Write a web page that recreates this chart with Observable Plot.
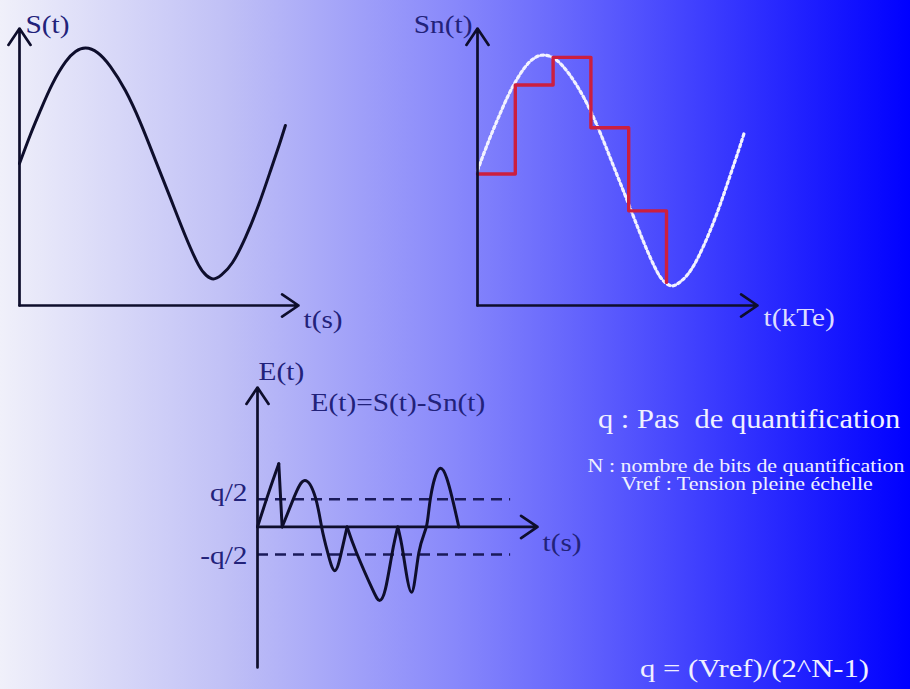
<!DOCTYPE html>
<html>
<head>
<meta charset="utf-8">
<script src="https://cdn.jsdelivr.net/npm/d3@7"></script>
<script src="https://cdn.jsdelivr.net/npm/@observablehq/plot@0.6"></script>
<style>
  html, body { margin: 0; padding: 0; }
  #slide {
    position: relative; width: 910px; height: 689px; overflow: hidden;
    background: linear-gradient(to right, #f0f0fa 0%, #c0c0f6 25%, #8888fb 50%, #4444fe 75%, #0000ff 100%);
  }
  #slide > svg { position: absolute; margin: 0; }
</style>
</head>
<body>
<div id="slide"></div>
<script>
// ---- data ----------------------------------------------------------------
// Analog signal S(t) (t: time units, S: volts)
const tS = [0, 0.39, 0.75, 1.18, 1.65, 2.01, 2.37, 2.80, 3.26, 3.80, 4.34, 4.87, 5.41, 5.95, 6.42, 6.70, 6.95, 7.24, 7.63, 8.10, 8.57, 9.00, 9.32, 9.53];
const S  = [1.23, 1.48, 1.69, 1.92, 2.11, 2.20, 2.23, 2.19, 2.07, 1.86, 1.58, 1.26, 0.93, 0.60, 0.35, 0.26, 0.23, 0.265, 0.37, 0.59, 0.87, 1.17, 1.40, 1.56];

// Sampling instants kTe and the quantised values Sn held until the next sample
const tK = [0, 1.35, 2.7, 4.05, 5.4, 6.75];
const Sn = [1.20, 1.97, 2.21, 1.60, 0.88, 0.26];

// Quantisation error E(t) = S(t) - Sn(t), in units of q, one piece per arc
const tE    = [0, 0.40, 0.76,  0.76, 0.88,
               0.88, 1.30, 1.69, 2.07, 2.29, 2.51, 2.76, 2.99, 3.20,
               3.20, 3.54, 4.10, 4.36, 4.57, 4.81, 5.01,
               5.01, 5.20, 5.50, 5.76, 6.03, 6.18, 6.54, 6.95, 7.19];
const E     = [0, 0.62, 1.14,  1.14, 0,
               0, 0.53, 0.84, 0.53, 0, -0.47, -0.79, -0.47, 0,
               0, -0.47, -1.12, -1.33, -1.12, -0.47, 0,
               0, -0.47, -1.18, -0.47, 0, 0.53, 1.06, 0.53, 0];
const pieceE = [0, 0, 0,  1, 1,
               2, 2, 2, 2, 2, 2, 2, 2, 2,
               3, 3, 3, 3, 3, 3, 3,
               4, 4, 4, 4, 4, 4, 4, 4, 4];

// Half quantisation step levels
const qLevels = [0.5, -0.5];
const qLabels = ["q/2", "-q/2"];

// Axis titles
const titles1 = ["S(t)", "t(s)"];
const titles2 = ["Sn(t)", "t(kTe)"];
const titles3 = ["E(t)", "t(s)", "E(t)=S(t)-Sn(t)"];

// Notes
const notes = [
  "q : Pas  de quantification",
  "N : nombre de bits de quantification",
  "Vref : Tension pleine échelle",
  "q = (Vref)/(2^N-1)"
];

// ---- drawing -------------------------------------------------------------
const slide = document.getElementById("slide");
const ink = "#0e0e2c";
const navy = "#22227a";
const serif = "Liberation Serif, Times New Roman, serif";
const transparent = {background: "transparent", overflow: "visible"};

const sigS = tS.map((t, i) => ({t, v: S[i]}));
const sigSn = tK.map((t, i) => ({t, v: Sn[i]}));
const sigE = tE.map((t, i) => ({t, v: E[i], piece: pieceE[i]}));
const qRows = qLevels.map((v, i) => ({v, s: qLabels[i]}));

// horizontal stretch of the serif lettering
function widen(svg, k) {
  svg.querySelectorAll("text").forEach((el) => {
    el.setAttribute("transform", (el.getAttribute("transform") || "") + ` scale(${k},1)`);
  });
}
function place(svg, left, top) {
  svg.style.left = left + "px";
  svg.style.top = top + "px";
  slide.append(svg);
}
function axesOf(xd, yd) {
  return [
    {x1: xd[0], y1: yd[0], x2: xd[0], y2: yd[1]},
    {x1: xd[0], y1: yd[0], x2: xd[1], y2: yd[0]}
  ];
}
const arrowStyle = {x1: "x1", y1: "y1", x2: "x2", y2: "y2", stroke: ink, strokeWidth: 2.7, headLength: 11, headAngle: 68};
const labelStyle = {fontFamily: serif, fontSize: 26, lineAnchor: "bottom"};

// Panel 1: the analog signal
const tDom = [0, 10];
const sDom1 = [0, 2.4];
const p1 = Plot.plot({
  width: 360, height: 345,
  marginLeft: 19, marginRight: 62, marginTop: 28, marginBottom: 40,
  x: {domain: tDom, axis: null},
  y: {domain: sDom1, axis: null},
  style: transparent,
  marks: [
    Plot.line(sigS, {x: "t", y: "v", curve: "natural", stroke: ink, strokeWidth: 3}),
    Plot.arrow(axesOf(tDom, sDom1), arrowStyle),
    Plot.text([{x: tDom[0], y: sDom1[1], s: titles1[0]}], {x: "x", y: "y", text: "s", ...labelStyle, textAnchor: "start", dx: 6, dy: 4, fill: navy}),
    Plot.text([{x: tDom[1], y: sDom1[0], s: titles1[1]}], {x: "x", y: "y", text: "s", ...labelStyle, textAnchor: "start", dx: 5, dy: 22, fill: navy})
  ]
});
widen(p1, 1.13);
place(p1, 0, 0);

// Panel 2: sampled and quantised signal over the analog one
const sDom2 = [0.06, 2.46];
const p2 = Plot.plot({
  width: 510, height: 345,
  marginLeft: 77, marginRight: 153, marginTop: 28, marginBottom: 40,
  x: {domain: tDom, axis: null},
  y: {domain: sDom2, axis: null},
  style: transparent,
  marks: [
    Plot.line(sigS, {x: "t", y: "v", curve: "natural", stroke: "#f2f2ff", strokeWidth: 3.2, strokeDasharray: "2.6 3"}),
    Plot.line(sigSn, {x: "t", y: "v", curve: "step-after", stroke: "#cc1f3f", strokeWidth: 3.4}),
    Plot.arrow(axesOf(tDom, sDom2), arrowStyle),
    Plot.text([{x: tDom[0], y: sDom2[1], s: titles2[0]}], {x: "x", y: "y", text: "s", ...labelStyle, textAnchor: "end", dx: -5, dy: 4, fill: navy}),
    Plot.text([{x: tDom[1], y: sDom2[0], s: titles2[1]}], {x: "x", y: "y", text: "s", ...labelStyle, textAnchor: "start", dx: 6, dy: 20, fill: "#dcdcff"})
  ]
});
widen(p2, 1.13);
place(p2, 400, 0);

// Panel 3: quantisation error
const eDom = [-2.54, 2.52];
const p3 = Plot.plot({
  width: 420, height: 349,
  marginLeft: 77, marginRight: 63, marginTop: 47, marginBottom: 22,
  x: {domain: tDom, axis: null},
  y: {domain: eDom, axis: null},
  style: transparent,
  marks: [
    Plot.ruleY(qLevels, {x1: () => 0, x2: () => 9.04, stroke: "#1a1a5a", strokeWidth: 2.5, strokeDasharray: "11 7"}),
    Plot.line(sigE, {x: "t", y: "v", z: "piece", curve: "natural", stroke: ink, strokeWidth: 3}),
    Plot.arrow([{x1: 0, y1: eDom[0], x2: 0, y2: eDom[1]}, {x1: 0, y1: 0, x2: tDom[1], y2: 0}], arrowStyle),
    Plot.text(qRows.slice(0, 1), {x: () => 0, y: "v", text: "s", ...labelStyle, textAnchor: "end", dx: -10, dy: 2, fill: navy}),
    Plot.text(qRows.slice(1), {x: () => 0, y: "v", text: "s", ...labelStyle, textAnchor: "end", dx: -10, dy: 9, fill: navy}),
    Plot.text([{x: 0, y: eDom[1], s: titles3[0]}], {x: "x", y: "y", text: "s", ...labelStyle, textAnchor: "start", dx: 1, dy: -8, fill: navy}),
    Plot.text([{x: tDom[1], y: 0, s: titles3[1]}], {x: "x", y: "y", text: "s", ...labelStyle, textAnchor: "start", dx: 5, dy: 24, fill: navy}),
    Plot.text([{x: 0, y: eDom[1], s: titles3[2]}], {x: "x", y: "y", text: "s", ...labelStyle, textAnchor: "start", dx: 53, dy: 23, fill: navy})
  ]
});
widen(p3, 1.13);
place(p3, 180, 340);

// Notes on the right
const svgN = d3.create("svg")
  .attr("width", 910).attr("height", 689)
  .style("left", "0px").style("top", "0px").style("pointer-events", "none")
  .attr("font-family", serif).attr("fill", "#f0f0ff");
const noteLayout = [
  {x: 598, y: 428, size: 27, k: 1.13, anchor: "start"},
  {x: 746, y: 472, size: 18, k: 1.22, anchor: "middle"},
  {x: 747, y: 490, size: 18, k: 1.22, anchor: "middle"},
  {x: 640, y: 677, size: 26, k: 1.18, anchor: "start"}
];
notes.forEach((s, i) => {
  const L = noteLayout[i];
  svgN.append("text")
    .attr("transform", `translate(${L.x},${L.y}) scale(${L.k},1)`)
    .attr("font-size", L.size)
    .attr("text-anchor", L.anchor)
    .style("white-space", "pre")
    .text(s);
});
slide.append(svgN.node());
</script>
</body>
</html>
